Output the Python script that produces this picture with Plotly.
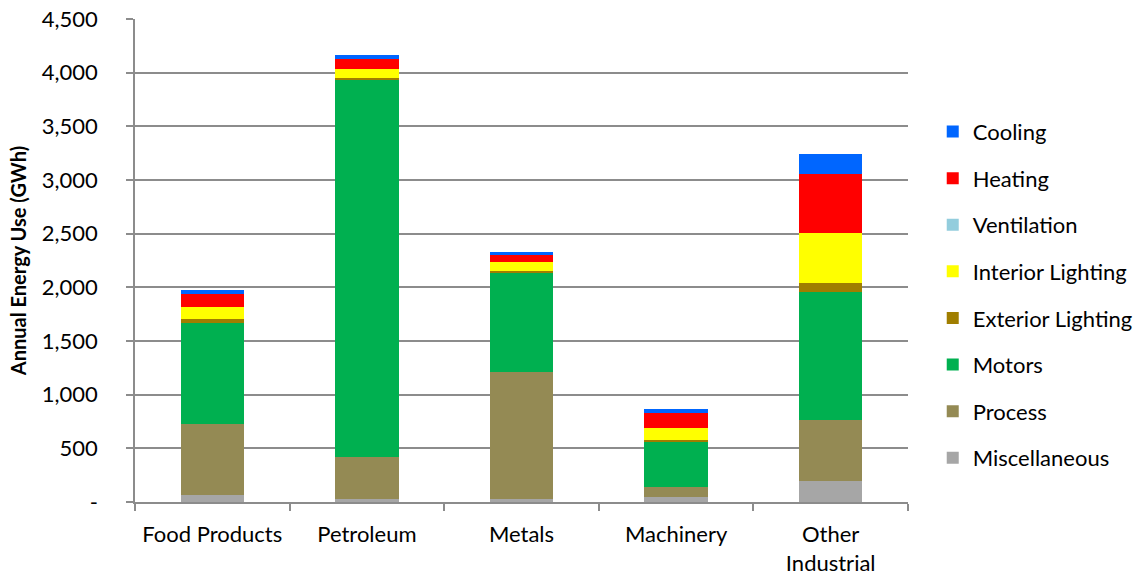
import plotly.graph_objects as go

categories = ["Food Products", "Petroleum", "Metals", "Machinery", "Other<br>Industrial"]

# End uses, bottom to top (GWh)
miscellaneous     = [65, 28, 28, 47, 193]
process           = [659, 391, 1180, 90, 568]
motors            = [944, 3516, 923, 425, 1193]
exterior_lighting = [37, 15, 21, 19, 89]
interior_lighting = [109, 87, 87, 106, 466]
ventilation       = [0, 0, 0, 0, 0]
heating           = [121, 90, 59, 145, 550]
cooling           = [37, 38, 28, 34, 181]

series_names = ["Miscellaneous", "Process", "Motors", "Exterior Lighting",
                "Interior Lighting", "Ventilation", "Heating", "Cooling"]
series_values = [miscellaneous, process, motors, exterior_lighting,
                 interior_lighting, ventilation, heating, cooling]
series_colors = ["#A6A6A6", "#948A54", "#00B050", "#A07E00",
                 "#FFFF00", "#93CDDD", "#FF0000", "#0066FF"]

y_tickvals = [0, 500, 1000, 1500, 2000, 2500, 3000, 3500, 4000, 4500]
y_ticktext = ["-", "500", "1,000", "1,500", "2,000", "2,500", "3,000", "3,500", "4,000", "4,500"]

FONT = "Lato, 'Open Sans', sans-serif"

fig = go.Figure()
n = len(series_names)
for i, (name, vals, col) in enumerate(zip(series_names, series_values, series_colors)):
    fig.add_trace(go.Bar(
        x=categories, y=vals, name=name, marker=dict(color=col, line=dict(width=0)),
        width=0.41, legendgroup=name, legendrank=n - i,
    ))

fig.update_layout(
    barmode="stack",
    width=1144, height=577,
    margin=dict(l=135, r=236, t=19, b=75, autoexpand=False),
    plot_bgcolor="white", paper_bgcolor="white",
    font=dict(family=FONT, size=22, color="#000000"),
    legend=dict(
        traceorder="grouped", tracegroupgap=15,
        x=1.032, xanchor="left", y=0.81, yanchor="top",
        font=dict(size=22, family=FONT), itemwidth=30,
    ),
    xaxis=dict(
        showline=True, linecolor="#8c8c8c", linewidth=1.5,
        ticks="outside", tickson="boundaries", ticklen=7, tickcolor="#8c8c8c", tickwidth=1.5,
        tickfont=dict(size=22, family=FONT), tickangle=0, ticklabelstandoff=12,
        ticklabeloverflow="allow",
    ),
    yaxis=dict(
        range=[0, 4500], tickvals=y_tickvals, ticktext=y_ticktext,
        showline=True, linecolor="#8c8c8c", linewidth=1.5,
        ticks="outside", ticklen=7, tickcolor="#8c8c8c", tickwidth=1.5,
        showgrid=True, gridcolor="#8c8c8c", gridwidth=1.5,
        zeroline=False, ticklabelposition="outside", ticklabelstandoff=24,
        ticklabeloverflow="allow",
        tickfont=dict(size=22, family=FONT),
        title=dict(text="<b>Annual Energy Use (GWh)</b>", font=dict(size=20, family=FONT), standoff=10),
    ),
)

# remove the default 8px page margin so the figure sits at the window's top-left corner
fig.write_html("out.html", config={"displayModeBar": False},
               post_script="document.body.style.margin='0';")
